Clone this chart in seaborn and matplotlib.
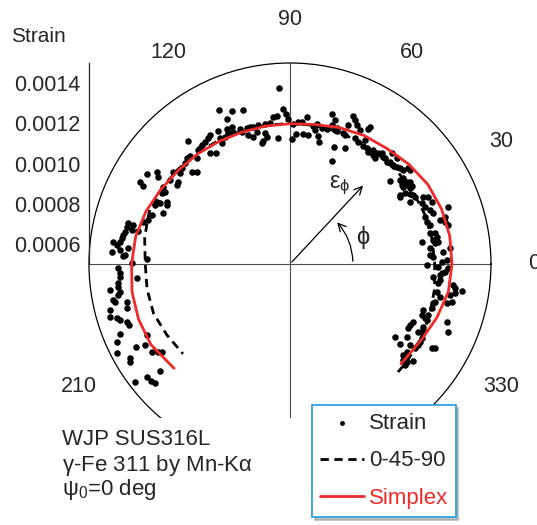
import numpy as np
import matplotlib
matplotlib.use("Agg")
import matplotlib.pyplot as plt
from matplotlib.patches import Rectangle
from matplotlib.ticker import MultipleLocator, FormatStrFormatter
import seaborn as sns

# ================= Data =================
# measured strain, phi in degrees
phi_deg = [
    179.6, 177.3, 181.3, 183.0, 184.4, 186.3, 187.6, 188.2, 189.4, 190.2, 191.5, 192.3, 193.1,
    195.1, 194.3, 196.4, 197.3, 198.2, 199.6, 200.7, 185.2, 202.4, 206.4, 204.3, 208.3, 209.2,
    207.2, 212.5, 213.7, 214.5, 210.4, 211.5, 219.5, 218.3, 220.1, 221.4, 217.3, 178.0,
    136.1, 138.4, 140.4, 136.8, 135.3, 141.8, 145.3, 146.6, 147.8, 151.3, 152.1, 143.8, 145.0,
    148.8, 151.0, 150.1, 155.0, 156.4, 154.9, 153.3, 154.4, 158.1, 160.4, 162.8, 164.1, 165.8,
    167.2, 166.0, 167.9, 169.0, 170.1, 171.2, 172.6, 172.9, 173.7, 176.1, 175.3, 174.4, 176.9,
    167.8,
    114.7, 110.8, 107.0, 113.5, 118.4, 115.0, 113.0, 110.3, 110.0, 107.5, 108.0, 113.4, 115.3,
    117.1, 119.1, 119.3, 121.8, 123.1, 124.9, 126.5, 127.8, 128.9, 125.8, 123.7, 129.7, 131.3,
    132.8, 134.2, 145.0,
    93.6, 92.6, 91.5, 95.0, 96.6, 90.8, 83.4, 74.4, 72.6, 86.8, 85.2, 88.8, 80.5, 79.1, 76.8,
    79.4, 74.7, 73.2, 70.9, 98.1, 100.1, 103.0, 105.1, 106.3, 106.2, 104.0, 100.8, 100.3, 102.4,
    103.0, 95.4, 89.1, 87.4, 84.3, 82.1, 77.7, 76.6, 69.4, 70.5,
    71.4, 66.9, 65.7, 67.4, 64.3, 62.4, 60.0, 59.7, 66.9, 68.0, 62.7, 60.9, 58.8, 58.3, 56.4,
    55.1, 53.9, 52.7, 51.3, 51.6, 50.4, 49.0, 48.1, 46.4, 47.4, 45.6, 43.9, 44.7, 42.2, 41.1,
    39.8, 37.4, 39.1, 38.1, 37.3, 35.0, 33.8, 32.3, 35.2, 39.7, 32.1, 31.7, 30.3, 64.6, 67.8,
    36.2, 34.3, 34.3, 32.6, 31.3, 29.3, 28.2, 27.3, 26.7, 25.9, 24.8, 23.6, 22.9, 21.1, 19.6,
    19.8, 19.2, 17.0, 16.3, 15.2, 13.9, 16.9, 15.6, 12.5, 12.1, 10.4, 9.5, 8.2, 8.5, 9.5, 6.5,
    4.5, 5.7, 3.7, 2.8, 1.5, 0.8, -0.4, -1.5, -3.0, -4.2, -5.2,
    -1.2, -3.4, -6.1, -7.3, -7.3, -8.3, -8.9, -11.0, -12.4, -10.8, -14.7, -10.0, -13.2, -14.0,
    -15.3, -17.2, -19.1, -21.1, -20.3, -21.8, -22.2, -25.2, -26.9, -28.5, -25.3, -26.4, -28.0,
    -20.3, -23.3, -34.8, -32.0, -29.3, -31.0, -32.3, -36.0, -34.0, -30.6, -30.1, -37.0, -33.9,
    -38.8, -40.3, -40.0, -41.3, -38.3,
]
strain = [
    0.001286, 0.001332, 0.001356, 0.001347, 0.001348, 0.001361, 0.001363, 0.001405, 0.001357,
    0.001370, 0.001399, 0.001391, 0.001333, 0.001340, 0.001424, 0.001433, 0.001402, 0.001390,
    0.001361, 0.001357, 0.001264, 0.001415, 0.001294, 0.001444, 0.001370, 0.001326, 0.001468,
    0.001314, 0.001289, 0.001273, 0.001423, 0.001433, 0.001338, 0.001407, 0.001404, 0.001395,
    0.001469, 0.001212,
    0.001225, 0.001219, 0.001210, 0.001169, 0.001151, 0.001240, 0.001305, 0.001287, 0.001341,
    0.001351, 0.001328, 0.001190, 0.001186, 0.001239, 0.001228, 0.001218, 0.001230, 0.001233,
    0.001214, 0.001185, 0.001179, 0.001181, 0.001228, 0.001240, 0.001261, 0.001331, 0.001331,
    0.001305, 0.001304, 0.001336, 0.001343, 0.001346, 0.001353, 0.001388, 0.001366, 0.001388,
    0.001349, 0.001310, 0.001322, 0.001274,
    0.001344, 0.001314, 0.001301, 0.001287, 0.001252, 0.001241, 0.001240, 0.001216, 0.001199,
    0.001209, 0.001175, 0.001215, 0.001221, 0.001210, 0.001217, 0.001190, 0.001255, 0.001248,
    0.001240, 0.001236, 0.001230, 0.001229, 0.001181, 0.001164, 0.001295, 0.001202, 0.001232,
    0.001235, 0.001229,
    0.001377, 0.001272, 0.001246, 0.001239, 0.001236, 0.001221, 0.001236, 0.001275, 0.001251,
    0.001207, 0.001209, 0.001197, 0.001196, 0.001209, 0.001195, 0.001178, 0.001197, 0.001222,
    0.001216, 0.001208, 0.001207, 0.001209, 0.001206, 0.001210, 0.001158, 0.001177, 0.001164,
    0.001142, 0.001126, 0.001118, 0.001130, 0.001122, 0.001147, 0.001150, 0.001148, 0.001152,
    0.001124, 0.001122, 0.001202,
    0.001203, 0.001300, 0.001286, 0.001249, 0.001268, 0.001252, 0.001276, 0.001289, 0.001198,
    0.001203, 0.001205, 0.001195, 0.001221, 0.001190, 0.001193, 0.001179, 0.001202, 0.001182,
    0.001176, 0.001205, 0.001217, 0.001205, 0.001208, 0.001200, 0.001250, 0.001210, 0.001211,
    0.001249, 0.001218, 0.001226, 0.001231, 0.001189, 0.001257, 0.001258, 0.001206, 0.001211,
    0.001206, 0.001207, 0.001182, 0.001147, 0.001146, 0.001172, 0.001191, 0.001139, 0.001053,
    0.001191, 0.001223, 0.001180, 0.001220, 0.001141, 0.001202, 0.001206, 0.001172, 0.001241,
    0.001263, 0.001223, 0.001271, 0.001229, 0.001247, 0.001255, 0.001336, 0.001211, 0.001213,
    0.001278, 0.001299, 0.001310, 0.001306, 0.001223, 0.001213, 0.001238, 0.001244, 0.001221,
    0.001229, 0.001244, 0.001166, 0.001201, 0.001264, 0.001300, 0.001198, 0.001212, 0.001281,
    0.001256, 0.001182, 0.001287, 0.001272, 0.001248, 0.001214,
    0.001236, 0.001258, 0.001251, 0.001242, 0.001318, 0.001329, 0.001366, 0.001311, 0.001264,
    0.001244, 0.001246, 0.001333, 0.001328, 0.001305, 0.001237, 0.001240, 0.001200, 0.001204,
    0.001232, 0.001223, 0.001236, 0.001177, 0.001170, 0.001168, 0.001232, 0.001239, 0.001221,
    0.001333, 0.001356, 0.001136, 0.001186, 0.001253, 0.001254, 0.001254, 0.001177, 0.001220,
    0.001321, 0.001334, 0.001228, 0.001249, 0.001222, 0.001238, 0.001259, 0.001262, 0.001279,
]

# Simplex fit curve
simplex_phi = [-42, -30, -20, -10, 0, 10, 20, 30, 40, 50, 60, 70, 80, 90, 100, 110, 120,
               130, 140, 150, 160, 170, 180, 190, 200, 210, 222]
simplex_eps = [0.001243, 0.001255, 0.001278, 0.001300, 0.001306, 0.001307, 0.001302,
               0.001292, 0.001272, 0.001250, 0.001238, 0.001222, 0.001205, 0.001198,
               0.001197, 0.001198, 0.001205, 0.001215, 0.001225, 0.001242, 0.001263,
               0.001280, 0.001288, 0.001298, 0.001302, 0.001300, 0.001276]

# 0-45-90 method curve
m0490_phi = [-45, -40, -30, -20, -10, 0, 10, 20, 30, 40, 50, 60, 70, 80, 90, 100, 110,
             120, 130, 140, 150, 158, 164, 170, 180, 190, 200, 210, 220]
m0490_eps = [0.001260, 0.001258, 0.001250, 0.001240, 0.001230, 0.001220, 0.001218,
             0.001215, 0.001210, 0.001205, 0.001200, 0.001200, 0.001200, 0.001200,
             0.001200, 0.001200, 0.001203, 0.001210, 0.001220, 0.001230, 0.001240,
             0.001250, 0.001240, 0.001234, 0.001220, 0.001222, 0.001222, 0.001207,
             0.001195]

angle_ticks = [0, 30, 60, 90, 120, 210, 330]
angle_labels = ["0", "30", "60", "90", "120", "210", "330"]
r_ticks = [0.0006, 0.0008, 0.0010, 0.0012, 0.0014]
R_MIN, R_MAX = 0.0005, 0.0015

# ================= Plot =================
sns.set_style("white")
plt.rcParams['font.family'] = ['Liberation Sans', 'DejaVu Sans']
plt.rcParams['mathtext.fontset'] = 'dejavusans'
plt.rcParams['mathtext.default'] = 'regular'

fig = plt.figure(figsize=(5.37, 5.25), dpi=100)
ax = fig.add_axes([0.1657, 0.1143, 0.7486, 0.7657], projection='polar')

th = np.deg2rad(phi_deg)
sns.scatterplot(x=th, y=strain, ax=ax, color='black', s=22, linewidth=0,
                label='Strain', zorder=3)
sns.lineplot(x=np.deg2rad(m0490_phi), y=m0490_eps, ax=ax, color='black', lw=2,
             linestyle=(0, (3, 2)), sort=False, estimator=None, label='0-45-90', zorder=3)
sns.lineplot(x=np.deg2rad(simplex_phi), y=simplex_eps, ax=ax, color='#ee2a2a', lw=2,
             sort=False, estimator=None, label='Simplex', zorder=4)
handles, labels = ax.get_legend_handles_labels()
if ax.get_legend() is not None:
    ax.get_legend().remove()

ax.set_ylim(R_MIN, R_MAX)
ax.set_yticks([])
ax.grid(False)
ax.set_thetagrids(angle_ticks, angle_labels, fontsize=15.5)
ax.tick_params(axis='x', pad=24, length=0)
ax.spines['polar'].set_linewidth(0.9)
ax.spines['polar'].set_color('black')
ax.set_xlabel('')
ax.set_ylabel('')
for a in [0, 90, 180, 270]:
    ax.axvline(np.deg2rad(a), color='0.3', lw=0.8, zorder=1)

# arrows for eps_phi and phi
ax.annotate('', xy=(np.deg2rad(47), 0.001047), xytext=(0, R_MIN),
            arrowprops=dict(arrowstyle='->', lw=0.9, color='black', mutation_scale=14))
ax.annotate('', xy=(np.deg2rad(44), 0.000813), xytext=(0, 0.000813),
            arrowprops=dict(arrowstyle='->', lw=0.9, color='black', mutation_scale=14,
                            connectionstyle='arc3,rad=0.2'))
ax.text(np.deg2rad(57.7), 0.000965, r'$\varepsilon_{\phi}$', fontsize=17,
        ha='center', va='center')
ax.text(np.deg2rad(19.6), 0.000886, r'$\phi$', fontsize=17, ha='center', va='center')

# radial axis on the left
rax = fig.add_axes([0.1657, 0.4971, 0.0001, 0.3829])
rax.set_ylim(R_MIN, R_MAX)
rax.set_xticks([])
for s in ['top', 'right', 'bottom']:
    rax.spines[s].set_visible(False)
rax.spines['left'].set_linewidth(0.9)
rax.set_yticks(r_ticks)
rax.yaxis.set_minor_locator(MultipleLocator(0.00005))
rax.yaxis.set_major_formatter(FormatStrFormatter('%.4f'))
rax.tick_params(axis='y', which='major', direction='in', length=6, width=0.9,
                labelsize=15.5, pad=6)
rax.tick_params(axis='y', which='minor', direction='in', length=3.5, width=0.9)
rax.patch.set_alpha(0)
fig.text(0.071, 0.931, 'Strain', fontsize=15, ha='center', va='center')

# white area under the annotation text
fig.add_artist(Rectangle((0, 0), 0.581, 0.2038, transform=fig.transFigure,
                         facecolor='white', edgecolor='none', zorder=4))
fig.text(0.1155, 0.162, 'WJP SUS316L', fontsize=16, ha='left', va='center', zorder=6)
fig.text(0.1155, 0.114, r'$\gamma$-Fe 311 by Mn-K$\alpha$', fontsize=16, ha='left',
         va='center', zorder=6)
fig.text(0.1155, 0.067, r'$\psi_0$=0 deg', fontsize=16, ha='left', va='center', zorder=6)

leg = fig.legend(handles, labels, loc='upper left', bbox_to_anchor=(0.581, 0.2286),
                 fontsize=16, frameon=True, fancybox=False, framealpha=1,
                 edgecolor='#2aa5de', labelspacing=0.75, handlelength=2.0,
                 handletextpad=0.2, borderpad=0.35, borderaxespad=0, markerscale=0.75,
                 shadow={'ox': 2, 'oy': -2, 'color': '0.6', 'alpha': 0.6})
leg.get_frame().set_linewidth(1.3)
leg.get_texts()[2].set_color('#ee2a2a')

fig.savefig('out.png', dpi=100)
